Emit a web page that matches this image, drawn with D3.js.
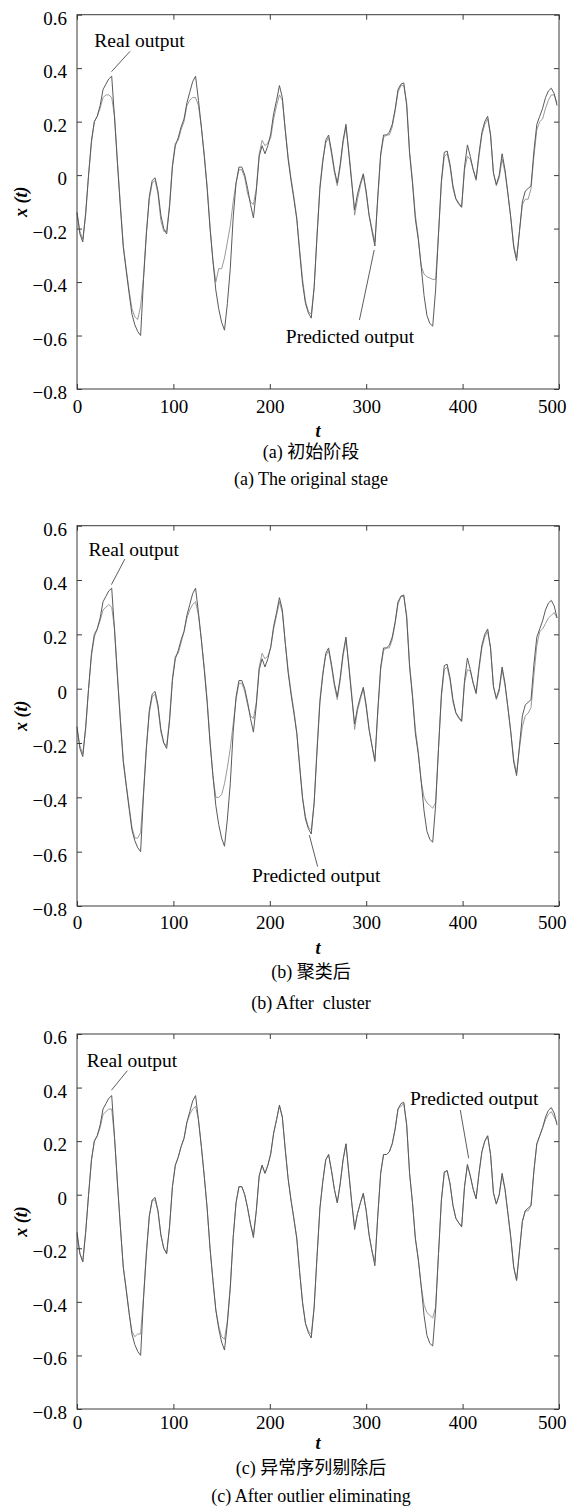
<!DOCTYPE html>
<html>
<head>
<meta charset="utf-8">
<script src="https://cdn.jsdelivr.net/npm/d3@7"></script>
<style>
  html, body { margin: 0; padding: 0; background: #fff; }
  svg { display: block; }
</style>
</head>
<body>
<svg id="chart" width="567" height="1509"></svg>
<script>
// ---------------- data ----------------
const timeSteps = d3.range(0, 499, 3); // t = 0, 3, ..., 498

const realOutput = [
  -0.14,-0.22,-0.25,-0.14,0.00,0.13,0.20,0.22,0.26,0.32,
  0.34,0.36,0.37,0.21,0.04,-0.12,-0.27,-0.355,-0.44,-0.52,
  -0.56,-0.585,-0.60,-0.39,-0.22,-0.08,-0.02,-0.01,-0.06,-0.15,
  -0.20,-0.22,-0.12,0.03,0.11,0.14,0.18,0.21,0.27,0.31,
  0.35,0.37,0.28,0.18,0.07,-0.05,-0.20,-0.32,-0.43,-0.50,
  -0.55,-0.58,-0.48,-0.35,-0.16,-0.03,0.03,0.03,0.00,-0.05,
  -0.11,-0.16,-0.06,0.07,0.11,0.08,0.11,0.155,0.23,0.28,
  0.335,0.29,0.17,0.06,-0.02,-0.09,-0.165,-0.29,-0.405,-0.48,
  -0.515,-0.535,-0.42,-0.23,-0.05,0.05,0.13,0.15,0.09,0.02,
  -0.03,0.04,0.13,0.19,0.08,-0.03,-0.13,-0.07,-0.03,0.005,
  -0.06,-0.15,-0.21,-0.265,-0.08,0.08,0.15,0.15,0.16,0.19,
  0.245,0.32,0.34,0.345,0.26,0.08,-0.03,-0.165,-0.24,-0.34,
  -0.45,-0.525,-0.555,-0.565,-0.43,-0.22,-0.02,0.085,0.09,0.04,
  -0.04,-0.088,-0.105,-0.12,0.03,0.113,0.07,0.02,-0.015,0.08,
  0.16,0.20,0.22,0.15,0.007,-0.035,0.00,0.08,0.02,-0.07,
  -0.16,-0.27,-0.32,-0.21,-0.10,-0.06,-0.05,-0.04,0.09,0.19,
  0.22,0.25,0.29,0.315,0.325,0.305,0.26
];

const predictedOriginal = [
  -0.14,-0.21,-0.24,-0.15,0.00,0.12,0.20,0.22,0.25,0.29,
  0.30,0.30,0.29,0.22,0.05,-0.11,-0.26,-0.35,-0.43,-0.50,
  -0.53,-0.54,-0.49,-0.38,-0.21,-0.09,-0.03,-0.02,-0.07,-0.17,
  -0.21,-0.21,-0.11,0.04,0.12,0.13,0.17,0.20,0.26,0.28,
  0.29,0.29,0.26,0.18,0.08,-0.04,-0.19,-0.32,-0.40,-0.35,
  -0.35,-0.31,-0.25,-0.19,-0.10,-0.03,0.02,0.02,-0.01,-0.07,
  -0.10,-0.11,-0.05,0.08,0.13,0.11,0.12,0.14,0.21,0.26,
  0.30,0.28,0.17,0.07,-0.01,-0.08,-0.16,-0.28,-0.39,-0.47,
  -0.51,-0.52,-0.42,-0.22,-0.04,0.06,0.12,0.14,0.08,0.01,
  -0.04,0.03,0.12,0.18,0.09,-0.02,-0.15,-0.09,-0.04,0.00,
  -0.07,-0.15,-0.20,-0.25,-0.09,0.07,0.14,0.15,0.15,0.18,
  0.24,0.31,0.335,0.335,0.27,0.09,-0.02,-0.15,-0.23,-0.34,
  -0.37,-0.38,-0.385,-0.39,-0.39,-0.22,-0.03,0.07,0.08,0.03,
  -0.05,-0.09,-0.11,-0.12,0.02,0.07,0.06,0.02,-0.02,0.07,
  0.15,0.19,0.21,0.15,0.01,-0.04,-0.01,0.06,0.01,-0.07,
  -0.16,-0.26,-0.31,-0.21,-0.11,-0.09,-0.09,-0.05,0.07,0.17,
  0.20,0.21,0.25,0.28,0.30,0.30,0.27
];

const predictedCluster = [
  -0.15,-0.21,-0.24,-0.15,0.00,0.12,0.19,0.22,0.25,0.29,
  0.30,0.31,0.30,0.22,0.05,-0.11,-0.26,-0.35,-0.43,-0.51,
  -0.55,-0.55,-0.53,-0.38,-0.21,-0.09,-0.03,-0.02,-0.07,-0.16,
  -0.20,-0.21,-0.11,0.04,0.12,0.13,0.17,0.21,0.26,0.29,
  0.31,0.32,0.27,0.18,0.08,-0.04,-0.19,-0.32,-0.40,-0.40,
  -0.39,-0.35,-0.29,-0.22,-0.13,-0.04,0.02,0.02,-0.01,-0.06,
  -0.10,-0.11,-0.05,0.08,0.13,0.11,0.12,0.15,0.22,0.27,
  0.32,0.28,0.17,0.07,-0.01,-0.08,-0.16,-0.28,-0.40,-0.47,
  -0.51,-0.52,-0.42,-0.22,-0.04,0.06,0.12,0.14,0.08,0.01,
  -0.04,0.03,0.12,0.18,0.09,-0.02,-0.15,-0.08,-0.04,0.00,
  -0.07,-0.15,-0.21,-0.27,-0.09,0.07,0.14,0.15,0.15,0.18,
  0.24,0.31,0.34,0.34,0.27,0.09,-0.02,-0.15,-0.23,-0.34,
  -0.40,-0.42,-0.43,-0.44,-0.42,-0.22,-0.03,0.07,0.08,0.03,
  -0.05,-0.09,-0.11,-0.12,0.02,0.07,0.065,0.02,-0.02,0.07,
  0.15,0.19,0.21,0.15,0.01,-0.04,-0.01,0.07,0.01,-0.07,
  -0.16,-0.26,-0.31,-0.22,-0.14,-0.10,-0.09,-0.07,0.05,0.16,
  0.21,0.22,0.24,0.26,0.27,0.28,0.26
];

const predictedEliminated = [
  -0.15,-0.22,-0.25,-0.14,0.00,0.13,0.20,0.22,0.25,0.30,
  0.31,0.32,0.32,0.21,0.04,-0.12,-0.27,-0.35,-0.44,-0.51,
  -0.53,-0.52,-0.52,-0.38,-0.21,-0.08,-0.02,-0.02,-0.06,-0.15,
  -0.20,-0.22,-0.12,0.03,0.11,0.14,0.18,0.21,0.27,0.30,
  0.32,0.33,0.28,0.18,0.07,-0.05,-0.20,-0.32,-0.43,-0.49,
  -0.53,-0.54,-0.47,-0.34,-0.16,-0.03,0.03,0.03,0.00,-0.05,
  -0.11,-0.15,-0.06,0.07,0.11,0.08,0.11,0.15,0.23,0.28,
  0.33,0.29,0.17,0.06,-0.02,-0.09,-0.16,-0.29,-0.40,-0.48,
  -0.51,-0.52,-0.42,-0.23,-0.05,0.05,0.13,0.15,0.09,0.02,
  -0.03,0.04,0.13,0.19,0.08,-0.03,-0.12,-0.07,-0.03,0.005,
  -0.06,-0.15,-0.21,-0.25,-0.08,0.08,0.15,0.15,0.16,0.19,
  0.245,0.32,0.33,0.34,0.26,0.08,-0.03,-0.16,-0.24,-0.34,
  -0.41,-0.44,-0.45,-0.46,-0.42,-0.22,-0.02,0.08,0.09,0.04,
  -0.04,-0.088,-0.105,-0.12,0.03,0.11,0.07,0.02,-0.015,0.08,
  0.16,0.20,0.22,0.15,0.007,-0.035,0.00,0.07,0.02,-0.07,
  -0.16,-0.27,-0.32,-0.21,-0.10,-0.06,-0.06,-0.04,0.09,0.19,
  0.22,0.25,0.28,0.30,0.31,0.29,0.27
];

const xTicks = [0, 100, 200, 300, 400, 500];
const yTicks = [0.6, 0.4, 0.2, 0, -0.2, -0.4, -0.6, -0.8];
const captionsCN = ["(a) 初始阶段", "(b) 聚类后", "(c) 异常序列剔除后"];
const captionsEN = ["(a) The original stage", "(b) After  cluster", "(c) After outlier eliminating"];
const labelReal = "Real output";
const labelPred = "Predicted output";

// ---------------- layout ----------------
const X0 = 77, X1 = 559;
const SERIF = '"Liberation Serif", "Times New Roman", serif';
const CAPFONT = '"Liberation Serif", "Noto Sans CJK SC", serif';
const panels = [
  { top: 14.7, bottom: 389, pred: predictedOriginal, tickY: 407, tY: 431, cnY: 452, enY: 479,
    realText: [18, 0.48], realLine: [[55, 0.463], [35.8, 0.387]],
    predText: [216.6, -0.629], predLine: [[293, -0.542], [308.3, -0.28]] },
  { top: 525.7, bottom: 906, pred: predictedCluster, tickY: 923, tY: 948, cnY: 972, enY: 1003,
    realText: [12, 0.49], realLine: [[49.6, 0.477], [35.7, 0.383]],
    predText: [181.6, -0.71], predLine: [[249.6, -0.655], [241, -0.539]] },
  { top: 1034, bottom: 1409, pred: predictedEliminated, tickY: 1423, tY: 1443, cnY: 1468, enY: 1496,
    realText: [10.2, 0.476], realLine: [[52.2, 0.463], [35.7, 0.39]],
    predText: [345.4, 0.335], predLine: [[397.6, 0.316], [406.3, 0.136]] }
];

const svg = d3.select("#chart");
const x = d3.scaleLinear().domain([0, 500]).range([X0, X1]);
const yFmt = d => d === 0 ? "0" : d3.format(".1f")(d);
const frameColor = "#3a3a3a";
const capX = 311;

panels.forEach((p, pi) => {
  const y = d3.scaleLinear().domain([-0.8, 0.6]).range([p.bottom, p.top]);
  const g = svg.append("g");

  // series
  const line = d3.line().x((d, i) => x(timeSteps[i])).y(d => y(d));
  g.append("path").datum(p.pred)
    .attr("d", line).attr("fill", "none")
    .attr("stroke", "#8f8f8f").attr("stroke-width", 0.9);
  g.append("path").datum(realOutput)
    .attr("d", line).attr("fill", "none")
    .attr("stroke", "#5a5a5a").attr("stroke-width", 1);

  // axes (ticks inward)
  const bottomAx = g.append("g").attr("transform", `translate(0,${p.bottom})`)
    .call(d3.axisBottom(x).tickValues(xTicks).tickSizeInner(-5).tickSizeOuter(0).tickPadding(0).tickFormat(d3.format("d")));
  bottomAx.selectAll("text").attr("y", p.tickY - p.bottom).attr("dy", "0.33em")
    .filter(d => d === 500).attr("text-anchor", "end").attr("x", 566 - X1);
  const topAx = g.append("g").attr("transform", `translate(0,${p.top})`)
    .call(d3.axisTop(x).tickValues(xTicks).tickSizeInner(-5).tickSizeOuter(0).tickFormat(""));
  const leftAx = g.append("g").attr("transform", `translate(${X0},0)`)
    .call(d3.axisLeft(y).tickValues(yTicks).tickSizeInner(-5).tickSizeOuter(0).tickPadding(10).tickFormat(yFmt));
  leftAx.selectAll("text").attr("dy", "0.5em");
  const rightAx = g.append("g").attr("transform", `translate(${X1},0)`)
    .call(d3.axisRight(y).tickValues(yTicks).tickSizeInner(-5).tickSizeOuter(0).tickFormat(""));
  [bottomAx, topAx, leftAx, rightAx].forEach(a => {
    a.select(".domain").remove();
    a.selectAll("line").attr("stroke", frameColor).attr("stroke-width", 1);
    a.attr("font-family", SERIF).attr("font-size", 19);
    a.selectAll("text").attr("fill", "#000").style("font-family", SERIF).style("font-size", "19px");
  });

  // frame
  g.append("rect")
    .attr("x", X0).attr("y", p.top)
    .attr("width", X1 - X0).attr("height", p.bottom - p.top)
    .attr("fill", "none").attr("stroke", frameColor).attr("stroke-width", 1);

  // annotations
  g.append("text").attr("x", x(p.realText[0])).attr("y", y(p.realText[1]))
    .style("font-family", SERIF).style("font-size", "19.5px").text(labelReal);
  g.append("line")
    .attr("x1", x(p.realLine[0][0])).attr("y1", y(p.realLine[0][1]))
    .attr("x2", x(p.realLine[1][0])).attr("y2", y(p.realLine[1][1]))
    .attr("stroke", "#333").attr("stroke-width", 0.8);
  g.append("text").attr("x", x(p.predText[0])).attr("y", y(p.predText[1]))
    .style("font-family", SERIF).style("font-size", "19.5px").text(labelPred);
  g.append("line")
    .attr("x1", x(p.predLine[0][0])).attr("y1", y(p.predLine[0][1]))
    .attr("x2", x(p.predLine[1][0])).attr("y2", y(p.predLine[1][1]))
    .attr("stroke", "#333").attr("stroke-width", 0.8);

  // axis titles
  g.append("text")
    .attr("transform", `translate(21,${(p.top + p.bottom) / 2}) rotate(-90)`)
    .attr("text-anchor", "middle").attr("dy", "0.33em")
    .style("font-family", SERIF)
    .style("font-size", "18px").style("font-weight", "bold").style("font-style", "italic")
    .style("white-space", "pre")
    .text("x (t)");
  g.append("text")
    .attr("x", (X0 + X1) / 2).attr("y", p.tY).attr("dy", "0.33em")
    .attr("text-anchor", "middle")
    .style("font-family", SERIF)
    .style("font-size", "18px").style("font-weight", "bold").style("font-style", "italic")
    .text("t");

  // captions
  g.append("text").attr("x", capX).attr("y", p.cnY).attr("dy", "0.35em")
    .attr("text-anchor", "middle").style("font-family", CAPFONT).style("font-size", "18px")
    .text(captionsCN[pi]);
  g.append("text").attr("x", capX).attr("y", p.enY).attr("dy", "0.33em")
    .attr("text-anchor", "middle").style("font-family", CAPFONT).style("font-size", "18px")
    .style("white-space", "pre")
    .text(captionsEN[pi]);
});
</script>
</body>
</html>
